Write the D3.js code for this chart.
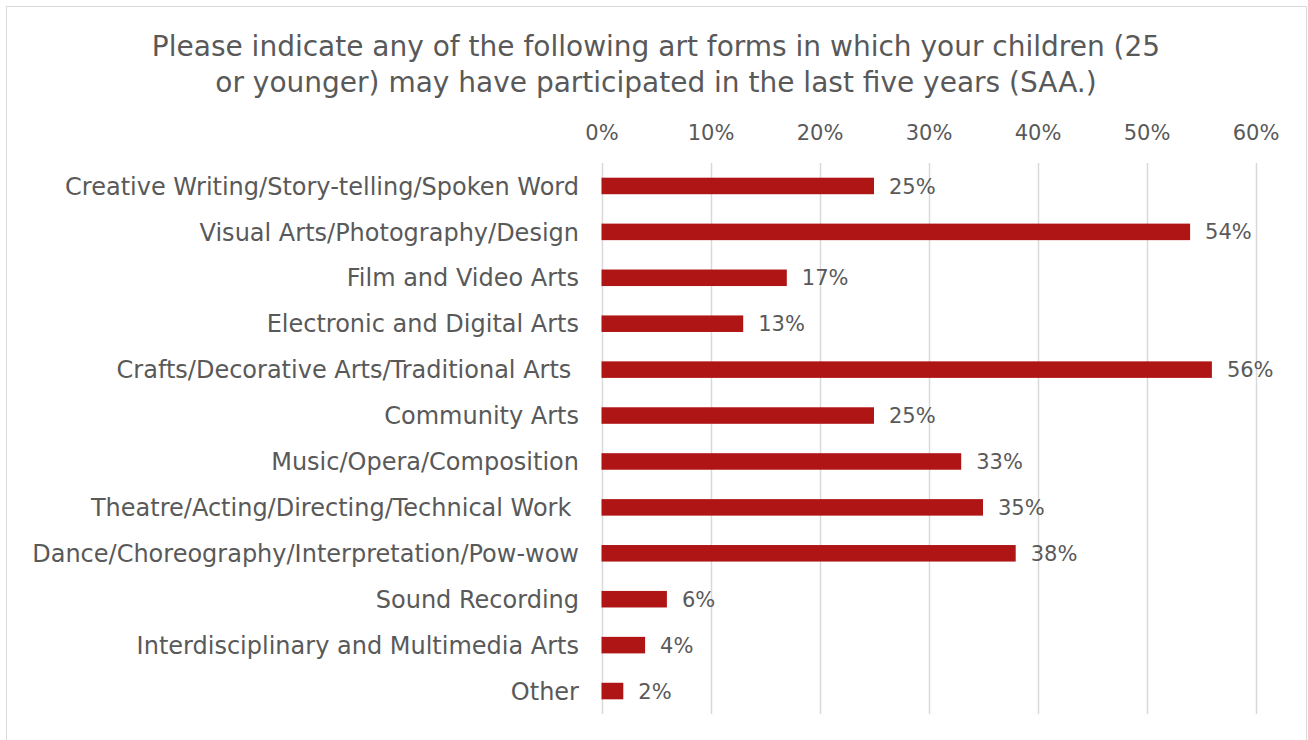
<!DOCTYPE html>
<html>
<head>
<meta charset="utf-8">
<script src="https://cdn.jsdelivr.net/npm/d3@7"></script>
<style>
  html, body { margin: 0; padding: 0; background: #fff; }
  svg text { font-family: "DejaVu Sans", sans-serif; fill: #595959; white-space: pre; }
</style>
</head>
<body>
<svg id="chart" width="1308" height="740"></svg>
<script>
// Survey question and response categories
const titleLines = [
  "Please indicate any of the following art forms in which your children (25",
  "or younger) may have participated in the last five years (SAA.)"
];
const categories = [
  "Creative Writing/Story-telling/Spoken Word",
  "Visual Arts/Photography/Design",
  "Film and Video Arts",
  "Electronic and Digital Arts",
  "Crafts/Decorative Arts/Traditional Arts ",
  "Community Arts",
  "Music/Opera/Composition",
  "Theatre/Acting/Directing/Technical Work ",
  "Dance/Choreography/Interpretation/Pow-wow",
  "Sound Recording",
  "Interdisciplinary and Multimedia Arts",
  "Other"
];
const percentages = [25, 54, 17, 13, 56, 25, 33, 35, 38, 6, 4, 2];
const tickValues = [0, 10, 20, 30, 40, 50, 60];

const svg = d3.select("#chart");
const W = 1308, H = 740;

// Chart frame
svg.append("rect")
  .attr("x", 6.5).attr("y", 6.5)
  .attr("width", W - 8).attr("height", H)
  .attr("fill", "#fff").attr("stroke", "#d9d9d9").attr("stroke-width", 1);

const plot = { left: 601.5, right: 1255.5, top: 163, bottom: 714 };

const x = d3.scaleLinear().domain([0, 60]).range([plot.left, plot.right]);
const y = d3.scaleBand().domain(categories)
  .range([plot.top, plot.bottom])
  .paddingInner(0.64).paddingOuter(0.32);

// Title
svg.append("text")
  .attr("x", 656).attr("y", 55.5)
  .attr("text-anchor", "middle")
  .style("font-size", "28px")
  .selectAll("tspan").data(titleLines).join("tspan")
  .attr("x", 656).attr("dy", (d, i) => i === 0 ? 0 : 36)
  .text(d => d);

// Vertical gridlines
svg.append("g").selectAll("line").data(tickValues).join("line")
  .attr("x1", d => Math.round(x(d)) + 0.5).attr("x2", d => Math.round(x(d)) + 0.5)
  .attr("y1", plot.top).attr("y2", plot.bottom)
  .attr("stroke", "#d9d9d9").attr("stroke-width", 1.5);

// Top axis labels
const xAxis = d3.axisTop(x).tickValues(tickValues).tickFormat(d => d + "%").tickSize(0).tickPadding(0);
const gx = svg.append("g").attr("transform", `translate(0, 140)`).call(xAxis);
gx.select(".domain").remove();
gx.selectAll("text").style("font-size", "21px").attr("fill", "#595959").attr("dy", 0);

// Category labels
const yAxis = d3.axisLeft(y).tickSize(0).tickPadding(0);
const gy = svg.append("g").attr("transform", `translate(579, 0)`).call(yAxis);
gy.select(".domain").remove();
gy.selectAll("text").style("font-size", "24px").attr("fill", "#595959").attr("dy", "0.36em");

// Bars
svg.append("g").selectAll("rect").data(percentages).join("rect")
  .attr("x", x(0))
  .attr("y", (d, i) => y(categories[i]))
  .attr("width", d => x(d) - x(0))
  .attr("height", y.bandwidth())
  .attr("fill", "#b01515");

// Value labels
svg.append("g").selectAll("text").data(percentages).join("text")
  .attr("x", d => x(d) + 15)
  .attr("y", (d, i) => y(categories[i]) + y.bandwidth() / 2)
  .attr("dy", "0.36em")
  .style("font-size", "21px")
  .text(d => d + "%");
</script>
</body>
</html>
